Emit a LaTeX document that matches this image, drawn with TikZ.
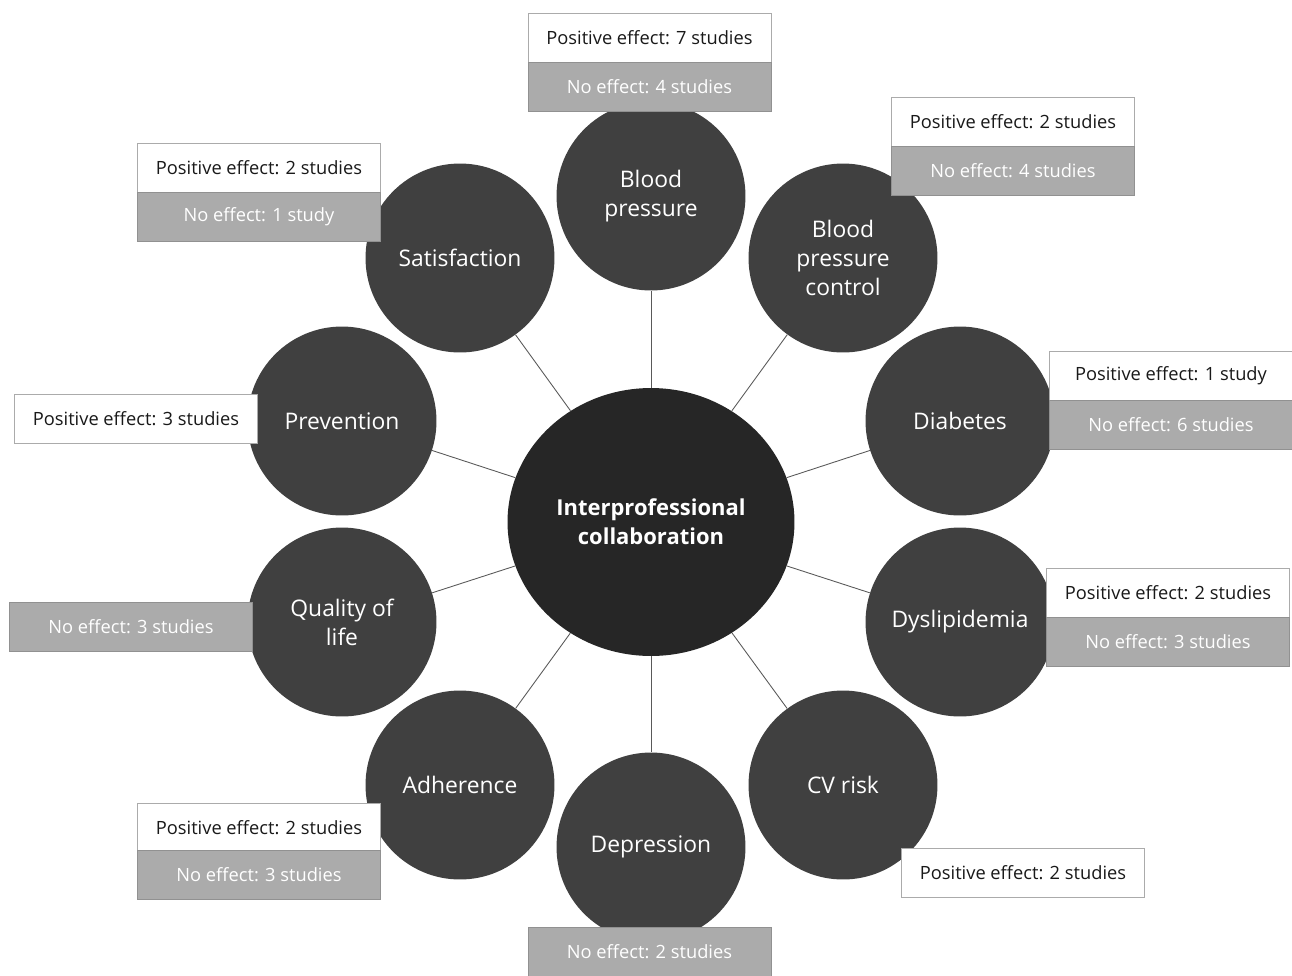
\documentclass[tikz,border=0pt]{standalone}
\usepackage{fontspec}
\setmainfont{Open Sans}
\usetikzlibrary{shapes.geometric}

\definecolor{topicgray}{HTML}{404040}
\definecolor{coregray}{HTML}{262626}
\definecolor{nogray}{HTML}{ABABAB}
\definecolor{linegray}{HTML}{595959}

\tikzset{
    topic/.style={circle, fill=topicgray, text=white, minimum size=3.78cm, inner sep=0pt,
        align=center, font=\fontsize{13}{16.5}\selectfont},
    core/.style={ellipse, fill=coregray, text=white, minimum width=5.74cm, minimum height=5.36cm,
        inner sep=0pt, align=center, font=\fontsize{12.5}{16.5}\selectfont\bfseries},
    posbox/.style={rectangle, draw=nogray, fill=white, text=black!90, minimum width=4.86cm,
        minimum height=0.98cm, inner sep=0pt, font=\fontsize{10.4}{12}\selectfont},
    nobox/.style={posbox, fill=nogray, draw=nogray!85!black, text=white},
    spoke/.style={linegray, line width=0.5pt}
}

\begin{document}
\begin{tikzpicture}[x=0.02cm, y=-0.02cm]
        \useasboundingbox (0,0) rectangle (1292,975);
        \begin{scope}
            % hub and topics
            \node [core] (ipc) at (651,522) {Interprofessional\\collaboration};
            \node [topic] (bp) at (651,196) {Blood\\pressure};
            \node [topic] (bpc) at (843,258) {Blood\\pressure\\control};
            \node [topic] (diab) at (960,421) {Diabetes};
            \node [topic] (dysl) at (960,622) {Dyslipidemia};
            \node [topic] (cvr) at (843,785) {CV risk};
            \node [topic] (depr) at (651,847) {Depression};
            \node [topic] (adh) at (460,785) {Adherence};
            \node [topic] (qol) at (342,622) {Quality of\\life};
            \node [topic] (prev) at (342,421) {Prevention};
            \node [topic] (sat) at (460,258) {Satisfaction};

            \foreach \t in {bp, bpc, diab, dysl, cvr, depr, adh, qol, prev, sat}
                \draw [spoke] (ipc) -- (\t);

            % study counts
            \node [posbox] (bpPos) at (649.5,37.5) {Positive effect: 7 studies};
            \node [nobox] (bpNo) at (649.5,86.5) {No effect: 4 studies};
            \node [posbox] (bpcPos) at (1013,121.5) {Positive effect: 2 studies};
            \node [nobox] (bpcNo) at (1013,170.5) {No effect: 4 studies};
            \node [posbox] (satPos) at (259,168) {Positive effect: 2 studies};
            \node [nobox] (satNo) at (259,216.5) {No effect: 1 study};
            \node [posbox] (prevPos) at (136,418.5) {Positive effect: 3 studies};
            \node [posbox] (diabPos) at (1171,375.5) {Positive effect: 1 study};
            \node [nobox] (diabNo) at (1171,424.5) {No effect: 6 studies};
            \node [posbox] (dyslPos) at (1168,593) {Positive effect: 2 studies};
            \node [nobox] (dyslNo) at (1168,641.5) {No effect: 3 studies};
            \node [nobox] (qolNo) at (131,626.5) {No effect: 3 studies};
            \node [posbox] (adhPos) at (259,827.5) {Positive effect: 2 studies};
            \node [nobox] (adhNo) at (259,874.5) {No effect: 3 studies};
            \node [posbox] (cvrPos) at (1023,872.5) {Positive effect: 2 studies};
            \node [nobox] (deprNo) at (649.5,951.5) {No effect: 2 studies};
        \end{scope}
\end{tikzpicture}
\end{document}
